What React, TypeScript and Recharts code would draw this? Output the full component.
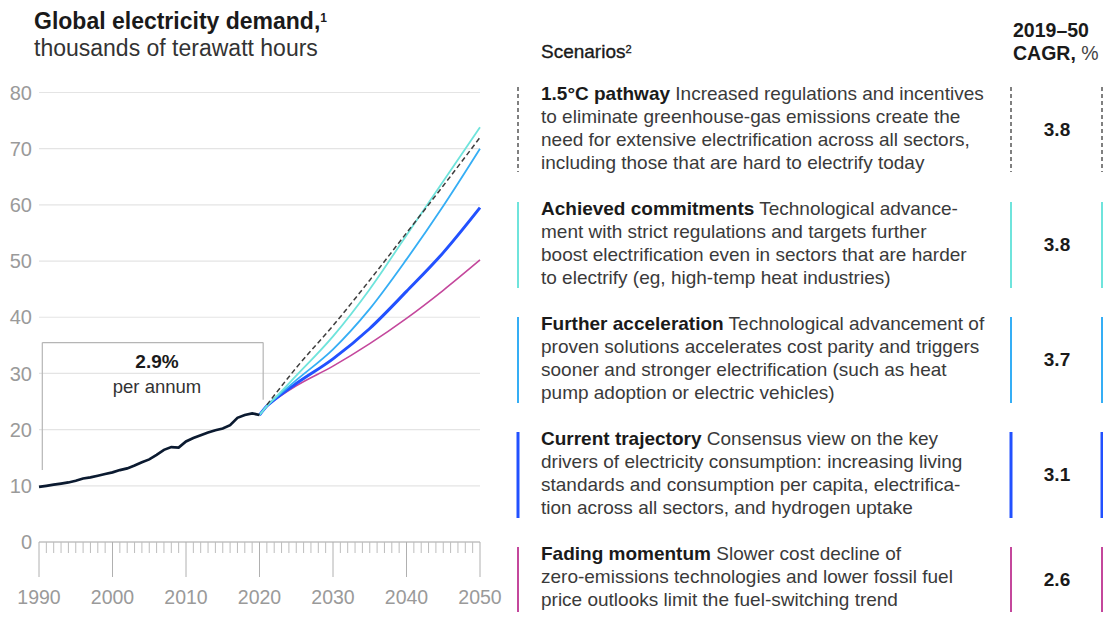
import React from 'react';
import { LineChart, Line, XAxis, YAxis, CartesianGrid, ReferenceLine } from 'recharts';

// ---------- data ----------
const HIST_YEARS = [1990, 1991, 1992, 1993, 1994, 1995, 1996, 1997, 1998, 1999, 2000, 2001, 2002, 2003, 2004, 2005, 2006, 2007, 2008, 2009, 2010, 2011, 2012, 2013, 2014, 2015, 2016, 2017, 2018, 2019, 2020];
const HIST_VALUES = [9.8, 10.0, 10.2, 10.4, 10.6, 10.9, 11.3, 11.5, 11.8, 12.1, 12.4, 12.8, 13.1, 13.6, 14.2, 14.7, 15.5, 16.4, 16.9, 16.8, 17.9, 18.5, 19.0, 19.5, 19.9, 20.2, 20.8, 22.1, 22.6, 22.9, 22.6];

const SCEN_YEARS = [2020, 2021, 2022, 2025, 2030, 2035, 2040, 2045, 2050];
const ACHIEVED = [22.6, 24.2, 25.5, 29.6, 36.6, 45.0, 54.6, 64.2, 73.8];
const FURTHER = [22.6, 24.2, 25.4, 28.8, 34.3, 41.5, 50.3, 59.8, 70.0];
const CURRENT = [22.6, 24.2, 25.3, 28.2, 32.6, 38.0, 44.6, 51.5, 59.5];
const FADING = [22.6, 24.2, 25.2, 27.8, 31.3, 35.3, 39.8, 44.8, 50.2];

const PATHWAY_YEARS = [2021, 2025, 2030, 2035, 2040, 2045, 2050];
const PATHWAY = [24.4, 31.0, 38.5, 46.6, 55.0, 63.4, 72.0];

const Y_TICKS = [0, 10, 20, 30, 40, 50, 60, 70, 80];
const X_LABELS = [1990, 2000, 2010, 2020, 2030, 2040, 2050];

const SCENARIO_NAMES = ['1.5°C pathway', 'Achieved commitments', 'Further acceleration', 'Current trajectory', 'Fading momentum'];
const SCENARIO_CAGR = ['3.8', '3.8', '3.7', '3.1', '2.6'];
const SCENARIO_LINES = [
  [' Increased regulations and incentives', 'to eliminate greenhouse-gas emissions create the', 'need for extensive electrification across all sectors,', 'including those that are hard to electrify today'],
  [' Technological advance-', 'ment with strict regulations and targets further', 'boost electrification even in sectors that are harder', 'to electrify (eg, high-temp heat industries)'],
  [' Technological advancement of', 'proven solutions accelerates cost parity and triggers', 'sooner and stronger electrification (such as heat', 'pump adoption or electric vehicles)'],
  [' Consensus view on the key', 'drivers of electricity consumption: increasing living', 'standards and consumption per capita, electrifica-', 'tion across all sectors, and hydrogen uptake'],
  [' Slower cost decline of', 'zero-emissions technologies and lower fossil fuel', 'price outlooks limit the fuel-switching trend'],
];

// ---------- styles ----------
const FONT = '"Liberation Sans", Arial, sans-serif';
const C_HIST = '#0b1a30';
const C_PATH = '#3d3d3d';
const C_ACH = '#6fe4dc';
const C_FUR = '#35aef5';
const C_CUR = '#2251ff';
const C_FAD = '#c4479c';
const SCEN_COLORS = [C_PATH, C_ACH, C_FUR, C_CUR, C_FAD];
const BAR_W = [1.5, 2, 2, 3, 2];
const BLOCK_TOP = [87, 202, 317, 432, 547];
const BLOCK_H = [85, 86, 86, 86, 65];

const toSeries = (years: number[], vals: number[]) => years.map((year, i) => ({ year, value: vals[i] }));
const histData = toSeries(HIST_YEARS, HIST_VALUES);
const achData = toSeries(SCEN_YEARS, ACHIEVED);
const furData = toSeries(SCEN_YEARS, FURTHER);
const curData = toSeries(SCEN_YEARS, CURRENT);
const fadData = toSeries(SCEN_YEARS, FADING);
const pathData = toSeries(PATHWAY_YEARS, PATHWAY);

const ALL_YEARS: number[] = [];
for (let y = X_LABELS[0]; y <= X_LABELS[X_LABELS.length - 1]; y++) ALL_YEARS.push(y);

const YearTick = (props: any) => {
  const { x, y, payload } = props;
  const yr = payload.value as number;
  const major = X_LABELS.includes(yr);
  return (
    <g>
      <line x1={x} x2={x} y1={y} y2={y + (major ? 35 : 11)} stroke={major ? '#b0b0b0' : '#bdbdbd'} strokeWidth={1} />
      {major && (
        <text x={x} y={y + 55.5} dy="0.355em" textAnchor="middle" fill="#9a9a9a" fontSize={19.5} fontFamily={FONT}>
          {yr}
        </text>
      )}
    </g>
  );
};

export default function App() {
  return (
    <div style={{ position: 'absolute', left: 0, top: 0, width: 1103, height: 619, background: '#fff', fontFamily: FONT, overflow: 'hidden' }}>
      {/* Title */}
      <div style={{ position: 'absolute', left: 34, top: 8, fontSize: 23, fontWeight: 700, color: '#1a1a1a', whiteSpace: 'nowrap', lineHeight: '26px' }}>
        Global electricity demand,<sup style={{ fontSize: 12, verticalAlign: 'top', position: 'relative', top: -3 }}>1</sup>
      </div>
      <div style={{ position: 'absolute', left: 34, top: 35, fontSize: 23, color: '#333', whiteSpace: 'nowrap', lineHeight: '26px' }}>
        thousands of terawatt hours
      </div>

      <div style={{ position: 'absolute', left: 0, top: 0 }}>
        <LineChart width={515} height={619} margin={{ top: 92.5, right: 35, bottom: 0, left: 0 }}>
          <CartesianGrid vertical={false} stroke="#e4e4e4" strokeWidth={1.2} />
          <XAxis
            dataKey="year"
            type="number"
            domain={[1990, 2050]}
            ticks={ALL_YEARS}
            interval={0}
            height={77}
            tickSize={0}
            tickMargin={0}
            tickLine={false}
            axisLine={{ stroke: '#b0b0b0' }}
            tick={<YearTick />}
            allowDuplicatedCategory={false}
          />
          <YAxis
            type="number"
            domain={[0, 80]}
            ticks={Y_TICKS}
            width={39}
            axisLine={false}
            tickLine={false}
            tickMargin={1}
            tick={{ fill: '#9a9a9a', fontSize: 20, fontFamily: FONT }}
          />
          <ReferenceLine segment={[{ x: 1990.45, y: 12.8 }, { x: 1990.45, y: 35.5 }]} stroke="#b5b5b5" strokeWidth={1.2} />
          <ReferenceLine segment={[{ x: 1990.45, y: 35.5 }, { x: 2020.5, y: 35.5 }]} stroke="#b5b5b5" strokeWidth={1.2} />
          <ReferenceLine segment={[{ x: 2020.5, y: 35.5 }, { x: 2020.5, y: 25.3 }]} stroke="#b5b5b5" strokeWidth={1.2} />
          <Line data={fadData} dataKey="value" type="monotone" stroke={C_FAD} strokeWidth={1.6} dot={false} isAnimationActive={false} />
          <Line data={curData} dataKey="value" type="monotone" stroke={C_CUR} strokeWidth={3} dot={false} isAnimationActive={false} />
          <Line data={furData} dataKey="value" type="monotone" stroke={C_FUR} strokeWidth={1.8} dot={false} isAnimationActive={false} />
          <Line data={achData} dataKey="value" type="monotone" stroke={C_ACH} strokeWidth={1.8} dot={false} isAnimationActive={false} />
          <Line data={pathData} dataKey="value" type="monotone" stroke={C_PATH} strokeWidth={1.5} strokeDasharray="5 3" dot={false} isAnimationActive={false} />
          <Line data={histData} dataKey="value" type="linear" stroke={C_HIST} strokeWidth={2.7} dot={false} isAnimationActive={false} />
        </LineChart>
      </div>

      {/* Annotation */}
      <div style={{ position: 'absolute', left: 57, width: 200, top: 350, textAlign: 'center', fontSize: 19, fontWeight: 700, color: '#1a1a1a', lineHeight: '24px' }}>2.9%</div>
      <div style={{ position: 'absolute', left: 57, width: 200, top: 375, textAlign: 'center', fontSize: 18.5, color: '#333', lineHeight: '24px' }}>per annum</div>

      {/* Right panel headers */}
      <div style={{ position: 'absolute', left: 541, top: 40, fontSize: 19, color: '#1a1a1a', whiteSpace: 'nowrap', lineHeight: '24px', WebkitTextStroke: '0.35px #1a1a1a' }}>
        Scenarios<sup style={{ fontSize: 11, verticalAlign: 'top', position: 'relative', top: -3 }}>2</sup>
      </div>
      <div style={{ position: 'absolute', left: 1013, top: 18, fontSize: 19.5, fontWeight: 700, color: '#1a1a1a', whiteSpace: 'nowrap', lineHeight: '24px' }}>2019–50</div>
      <div style={{ position: 'absolute', left: 1013, top: 41, fontSize: 19.5, fontWeight: 700, color: '#1a1a1a', whiteSpace: 'nowrap', lineHeight: '24px' }}>
        CAGR, <span style={{ fontWeight: 400, color: '#444' }}>%</span>
      </div>

      {/* Bars */}
      <svg width={1103} height={619} style={{ position: 'absolute', left: 0, top: 0 }}>
        {BLOCK_TOP.map((t, i) =>
          [518, 1011, 1102].map((bx) => (
            <line
              key={`${i}-${bx}`}
              x1={bx}
              x2={bx}
              y1={t}
              y2={t + BLOCK_H[i]}
              stroke={SCEN_COLORS[i]}
              strokeWidth={i === 0 ? 1.3 : BAR_W[i]}
              strokeDasharray={i === 0 ? '4 3' : undefined}
            />
          ))
        )}
      </svg>

      {/* Scenario texts */}
      {BLOCK_TOP.map((t, i) => (
        <div key={i} style={{ position: 'absolute', left: 541, top: t - 5.5, fontSize: 19, lineHeight: '23px', color: '#3a3a3a', whiteSpace: 'nowrap' }}>
          {SCENARIO_LINES[i].map((ln, j) => (
            <div key={j}>
              {j === 0 && <span style={{ fontWeight: 700, color: '#1a1a1a' }}>{SCENARIO_NAMES[i]}</span>}
              {ln}
            </div>
          ))}
        </div>
      ))}
      {BLOCK_TOP.map((t, i) => (
        <div key={`v${i}`} style={{ position: 'absolute', left: 1017, width: 80, top: t + BLOCK_H[i] / 2 - 12, lineHeight: '24px', textAlign: 'center', fontSize: 19, fontWeight: 700, color: '#1a1a1a' }}>
          {SCENARIO_CAGR[i]}
        </div>
      ))}
    </div>
  );
}
